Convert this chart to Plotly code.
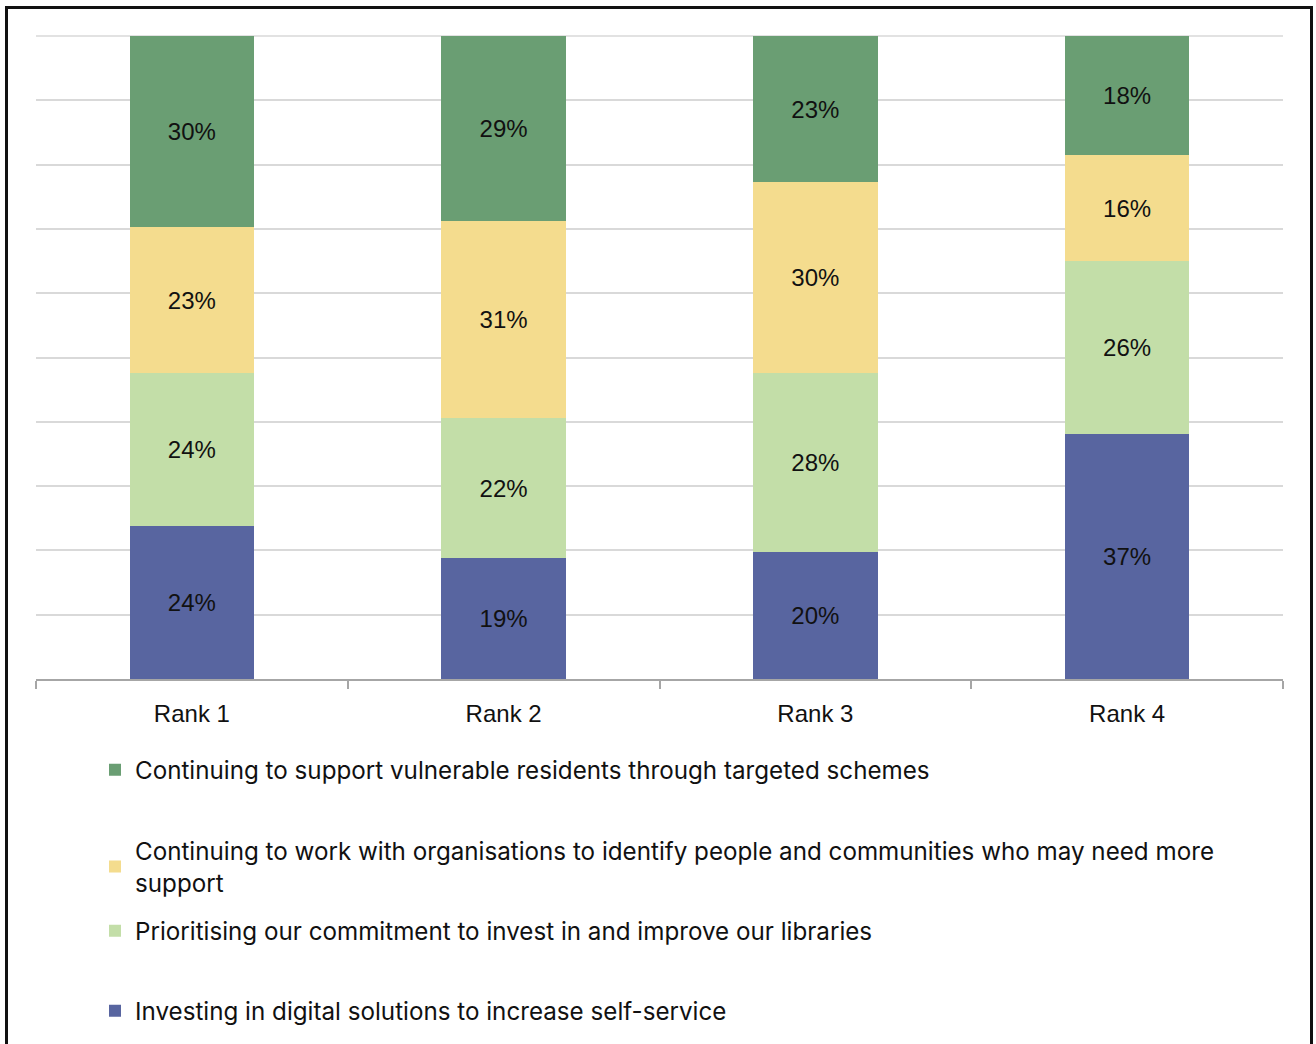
import plotly.graph_objects as go

categories = ["Rank 1", "Rank 2", "Rank 3", "Rank 4"]

series_names = [
    "Investing in digital solutions to increase self-service",
    "Prioritising our commitment to invest in and improve our libraries",
    "Continuing to work with organisations to identify people and communities who may need more<br>support",
    "Continuing to support vulnerable residents through targeted schemes",
]
digital = [24, 19, 20, 37]
libraries = [24, 22, 28, 26]
organisations = [23, 31, 30, 16]
vulnerable = [30, 29, 23, 18]

colors = ["#5865A0", "#C3DEA8", "#F4DC8E", "#6A9E73"]
series_values = [digital, libraries, organisations, vulnerable]

W, H = 1316, 1044
L, R, T, B = 36, 33, 36, 365
pw = W - L - R
ph = H - T - B

def py(y):
    return (H - B - y) / ph

def px(x):
    return (x - L) / pw

legend_y = [1011, 931, 866.5, 770]
legend_ids = ["legend", "legend2", "legend3", "legend4"]

fig = go.Figure()
for name, vals, col, lid in zip(series_names, series_values, colors, legend_ids):
    fig.add_trace(go.Bar(
        x=categories, y=vals, name=name,
        marker=dict(color=col, line=dict(width=0)),
        text=[f"{v}%" for v in vals],
        textposition="inside", insidetextanchor="middle",
        textfont=dict(family="Liberation Sans, Arial", size=24, color="#111111"),
        legend=lid,
    ))

layout_legends = {}
for lid, yy in zip(legend_ids, legend_y):
    layout_legends[lid] = dict(
        x=px(95), xanchor="left", y=py(yy), yanchor="middle",
        font=dict(family="Inter, Liberation Sans", size=24.2, color="#111111"),
        bgcolor="rgba(0,0,0,0)", borderwidth=0,
    )

fig.update_layout(
    width=W, height=H,
    margin=dict(l=L, r=R, t=T, b=B, autoexpand=False),
    paper_bgcolor="white", plot_bgcolor="white",
    barmode="stack", barnorm="percent", bargap=0.6,
    showlegend=True,
    xaxis=dict(
        showline=True, linecolor="#A6A6A6", linewidth=1.5,
        ticks="outside", tickson="boundaries", ticklen=8, tickcolor="#A6A6A6", tickwidth=1.5,
        tickfont=dict(family="Liberation Sans, Arial", size=24, color="#111111"),
        ticklabelstandoff=12,
        showgrid=False,
    ),
    yaxis=dict(
        range=[0, 100], dtick=10, showticklabels=False,
        showgrid=True, gridcolor="#D9D9D9", gridwidth=1.5,
        zeroline=False, showline=False, ticks="",
    ),
    shapes=[
        dict(
            type="line", xref="paper", yref="paper",
            x0=0, x1=1, y0=1, y1=1,
            line=dict(color="#D9D9D9", width=1.5), layer="below",
        ),
        dict(
            type="rect", xref="paper", yref="paper",
            x0=px(6.5), x1=px(1311.5), y0=py(1060), y1=py(7.5),
            line=dict(color="#111111", width=3), fillcolor="rgba(0,0,0,0)", layer="above",
        ),
    ],
    **layout_legends,
)

fig.write_html("out.html")
